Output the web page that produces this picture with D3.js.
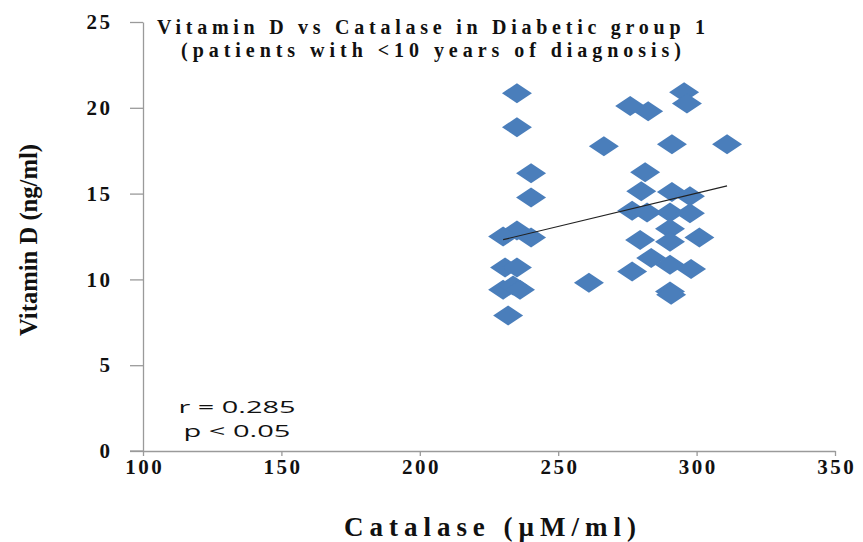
<!DOCTYPE html>
<html>
<head>
<meta charset="utf-8">
<script src="https://cdn.jsdelivr.net/npm/d3@7"></script>
<style>
body { margin: 0; background: #fff; }
svg { display: block; }
</style>
</head>
<body>
<div id="chart"></div>
<script>
// values
var catalase = [235.1, 235.1, 240.2, 240.2, 235.1, 230.1, 240.2, 230.8, 235.1, 230.1, 233.7, 236.2, 231.9,
	261.1, 266.5,
	276.0, 282.5, 295.5, 296.5, 291.1, 311.0, 281.4, 280.0, 291.1, 297.6, 276.7, 282.1, 290.4, 297.6,
	290.4, 279.6, 290.4, 301.0, 276.7, 283.6, 290.4, 298.0, 290.4, 290.8];
var vitaminD = [20.85, 18.87, 16.18, 14.78, 12.85, 12.5, 12.44, 10.69, 10.69, 9.40, 9.64, 9.40, 7.89,
	9.81, 17.76,
	20.1, 19.8, 20.9, 20.25, 17.87, 17.87, 16.24, 15.13, 15.1, 14.84, 14.0, 13.9, 13.9, 13.85,
	12.95, 12.3, 12.2, 12.44, 10.46, 11.25, 10.86, 10.6, 9.29, 9.1];

var xTicks = [100, 150, 200, 250, 300, 350];
var yTicks = [0, 5, 10, 15, 20, 25];

// linear trend line
var trendSlope = 0.0387;
var trendIntercept = 3.41;

var titleLines = ["Vitamin D vs Catalase in Diabetic group 1", "(patients with <10 years of diagnosis)"];
var statLines = ["r = 0.285", "p < 0.05"];

var width = 863, height = 542;
var serif = "'Liberation Serif', 'DejaVu Serif', serif";

var svg = d3.select("#chart").append("svg")
	.attr("width", width)
	.attr("height", height);

var x = d3.scaleLinear().domain([100, 350]).range([143, 835]);
var y = d3.scaleLinear().domain([0, 25]).range([451, 22]);

// axes
var xAxis = svg.append("g")
	.attr("transform", "translate(0," + y(0) + ")")
	.call(d3.axisBottom(x).tickValues(xTicks).tickSize(5).tickSizeOuter(0).tickPadding(3));
var yAxis = svg.append("g")
	.attr("transform", "translate(" + x(100) + ",0)")
	.call(d3.axisLeft(y).tickValues(yTicks).tickSize(13).tickSizeOuter(0).tickPadding(20));

[xAxis, yAxis].forEach(function(a) {
	a.select(".domain").attr("stroke", "#9a9a9a").attr("stroke-width", 1.3);
	a.selectAll(".tick line").attr("stroke", "#9a9a9a").attr("stroke-width", 1.3);
	a.selectAll(".tick text")
		.attr("fill", "#111")
		.style("font-family", serif)
		.style("font-weight", "bold")
		.style("font-size", "21px")
		.style("letter-spacing", "2.5px");
});
yAxis.selectAll(".tick text").attr("dx", "2.5px");
xAxis.selectAll(".tick text").attr("dx", "1.2px");
// extend x axis line left to the 0 tick
svg.append("line")
	.attr("x1", x(100) - 13).attr("x2", x(100))
	.attr("y1", y(0)).attr("y2", y(0))
	.attr("stroke", "#9a9a9a").attr("stroke-width", 1.3);

// points
var pts = d3.range(catalase.length).map(function(i) { return [catalase[i], vitaminD[i]]; });
svg.append("g").selectAll("path")
	.data(pts)
	.enter().append("path")
	.attr("d", "M0,-10L15,0L0,10L-15,0Z")
	.attr("transform", function(d) { return "translate(" + x(d[0]) + "," + y(d[1]) + ")"; })
	.attr("fill", "#4a7ebb");

// trend line
var xmin = d3.min(catalase), xmax = d3.max(catalase);
svg.append("line")
	.attr("x1", x(xmin)).attr("y1", y(trendIntercept + trendSlope * xmin))
	.attr("x2", x(xmax)).attr("y2", y(trendIntercept + trendSlope * xmax))
	.attr("stroke", "#222")
	.attr("stroke-width", 1.2);

// title
svg.selectAll(".title")
	.data(titleLines)
	.enter().append("text")
	.attr("class", "title")
	.attr("x", 431)
	.attr("y", function(d, i) { return 34 + i * 23; })
	.attr("text-anchor", "middle")
	.attr("textLength", function(d, i) { return i == 0 ? 548 : 500; })
	.attr("lengthAdjust", "spacing")
	.style("font-family", serif)
	.style("font-weight", "bold")
	.style("font-size", "20px")
	.attr("fill", "#111")
	.text(function(d) { return d; });

// r / p text
svg.selectAll(".stat")
	.data(statLines)
	.enter().append("text")
	.attr("class", "stat")
	.attr("x", 237)
	.attr("y", function(d, i) { return 413 + i * 24; })
	.attr("text-anchor", "middle")
	.attr("textLength", function(d, i) { return i == 0 ? 117 : 107; })
	.attr("lengthAdjust", "spacingAndGlyphs")
	.style("font-family", "'Open Sans', sans-serif")
	.style("font-size", "17px")
	.attr("fill", "#111")
	.text(function(d) { return d; });

// axis titles
svg.append("text")
	.attr("x", 490)
	.attr("y", 536)
	.attr("text-anchor", "middle")
	.attr("textLength", 292)
	.attr("lengthAdjust", "spacing")
	.style("font-family", serif)
	.style("font-weight", "bold")
	.style("font-size", "27px")
	.attr("fill", "#111")
	.text("Catalase (\u00b5M/ml)");

svg.append("text")
	.attr("transform", "translate(37,240) rotate(-90)")
	.attr("text-anchor", "middle")
	.attr("textLength", 192)
	.attr("lengthAdjust", "spacingAndGlyphs")
	.style("font-family", serif)
	.style("font-weight", "bold")
	.style("font-size", "25px")
	.attr("fill", "#111")
	.text("Vitamin D (ng/ml)");
</script>
</body>
</html>
